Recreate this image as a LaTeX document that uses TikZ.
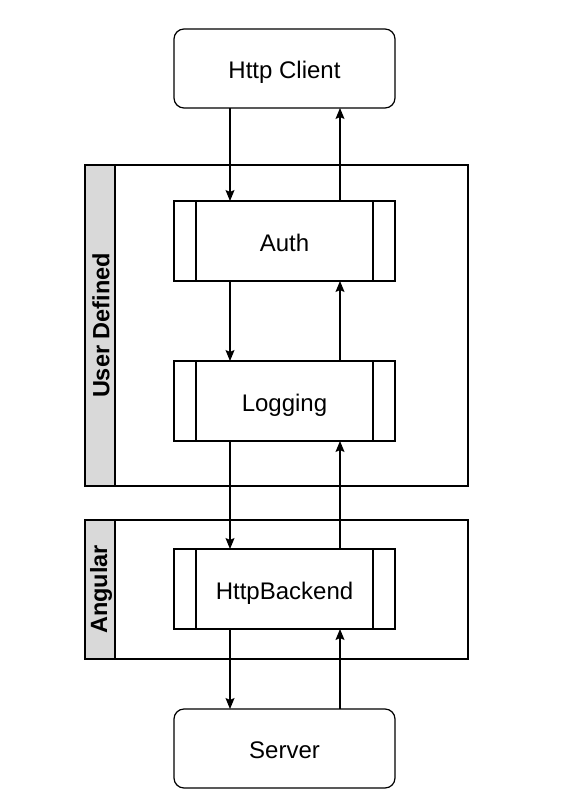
\documentclass[tikz,border=0pt]{standalone}
\usepackage{fontspec}
\setmainfont{Liberation Sans}
\usetikzlibrary{arrows.meta,calc}
\begin{document}
\begin{tikzpicture}[x=1pt,y=-1pt,
  every node/.style={inner sep=0pt,outer sep=0pt},
  lw/.style={line width=1.2pt},
  txt/.style={font=\fontsize{24}{28}\selectfont,text height=20pt,text depth=0pt},
  term/.style={lw,draw,rounded corners=10pt,minimum width=221pt,minimum height=79pt,txt},
  proc/.style={lw,draw,fill=white,minimum width=221pt,minimum height=80pt,txt},
  frame/.style={lw,draw,minimum width=383pt},
  header/.style={lw,draw,fill=black!15,minimum width=30pt},
  hlabel/.style={rotate=90,font=\bfseries\fontsize{23.5}{27}\selectfont},
  arr/.style={lw,-{Stealth[length=11pt,width=9pt,inset=2pt]}}
]
\useasboundingbox (0,0) rectangle (579,800);
% frames
\node[frame,minimum height=321pt] (fud) at (276.5,325.5) {};
\node[header,minimum height=321pt] (hud) at (100,325.5) {};
\node[hlabel] (lud) at (101,325.5) {User Defined};
\node[frame,minimum height=139pt] (fang) at (276.5,589.5) {};
\node[header,minimum height=139pt] (hang) at (100,589.5) {};
\node[hlabel] (lang) at (101,589.5) {Angular};
% nodes
\node[term] (client) at (284.5,68.5) {Http Client};
\node[proc] (auth) at (284.5,241) {Auth};
\node[proc] (log) at (284.5,401) {Logging};
\node[proc] (back) at (284.5,589) {HttpBackend};
\node[term] (server) at (284.5,748.5) {Server};
% process side lines
\foreach \n in {auth,log,back}{
  \draw[lw] ([xshift=22pt]\n.north west) -- ([xshift=22pt]\n.south west);
  \draw[lw] ([xshift=-22pt]\n.north east) -- ([xshift=-22pt]\n.south east);
}
% down arrows
\draw[arr] ([xshift=-54.5pt]client.south) -- ([xshift=-54.5pt]auth.north);
\draw[arr] ([xshift=-54.5pt]auth.south) -- ([xshift=-54.5pt]log.north);
\draw[arr] ([xshift=-54.5pt]log.south) -- ([xshift=-54.5pt]back.north);
\draw[arr] ([xshift=-54.5pt]back.south) -- ([xshift=-54.5pt]server.north);
% up arrows
\draw[arr] ([xshift=55.5pt]server.north) -- ([xshift=55.5pt]back.south);
\draw[arr] ([xshift=55.5pt]back.north) -- ([xshift=55.5pt]log.south);
\draw[arr] ([xshift=55.5pt]log.north) -- ([xshift=55.5pt]auth.south);
\draw[arr] ([xshift=55.5pt]auth.north) -- ([xshift=55.5pt]client.south);
\end{tikzpicture}
\end{document}
